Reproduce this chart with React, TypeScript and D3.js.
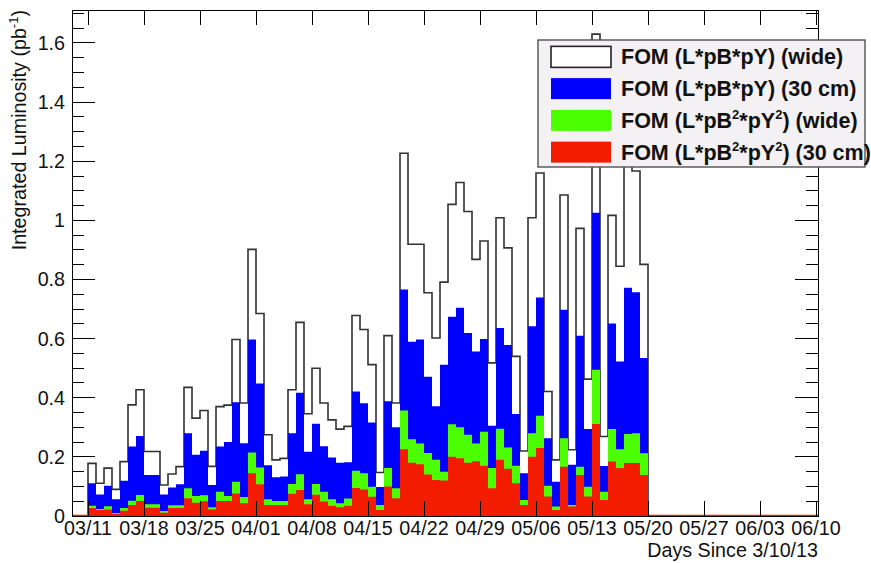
import React, { useEffect, useRef } from 'react';
import * as d3 from 'd3';

const W = 871;
const H = 563;

// one bin per day, day 0 = 3/10/13; first filled bin is 3/11 (day 1)
const firstDay = 1;

const fomWide = [
  0.178, 0.111, 0.162, 0.090, 0.184, 0.376, 0.427, 0.218, 0.218, 0.105,
  0.142, 0.167, 0.435, 0.331, 0.357, 0.168, 0.370, 0.375, 0.597, 0.382,
  0.902, 0.685, 0.275, 0.190, 0.195, 0.427, 0.655, 0.346, 0.500, 0.382,
  0.325, 0.294, 0.303, 0.678, 0.631, 0.512, 0.147, 0.610, 0.382, 1.227,
  0.919, 0.919, 0.755, 0.602, 0.791, 1.054, 1.128, 1.030, 0.868, 0.930,
  0.518, 1.009, 0.907, 0.540, 0.220, 1.009, 1.160, 0.421, 0.190, 1.086,
  0.224, 0.973, 0.463, 1.630, 0.269, 1.017, 0.845, 1.250, 1.167, 0.851,
];

const fom30 = [
  0.111, 0.073, 0.102, 0.057, 0.119, 0.235, 0.271, 0.139, 0.139, 0.073,
  0.096, 0.107, 0.280, 0.207, 0.221, 0.105, 0.235, 0.250, 0.385, 0.246,
  0.597, 0.448, 0.172, 0.131, 0.134, 0.280, 0.417, 0.217, 0.312, 0.236,
  0.198, 0.180, 0.182, 0.421, 0.381, 0.316, 0.098, 0.388, 0.300, 0.766,
  0.589, 0.597, 0.471, 0.371, 0.512, 0.674, 0.704, 0.619, 0.556, 0.599,
  0.305, 0.636, 0.578, 0.345, 0.145, 0.642, 0.739, 0.263, 0.116, 0.698,
  0.173, 0.610, 0.294, 1.026, 0.169, 0.651, 0.523, 0.772, 0.757, 0.534,
];

const fomSqWide = [
  0.035, 0.024, 0.033, 0.010, 0.027, 0.052, 0.071, 0.040, 0.040, 0.017,
  0.036, 0.036, 0.094, 0.068, 0.070, 0.030, 0.082, 0.068, 0.116, 0.064,
  0.215, 0.164, 0.057, 0.051, 0.051, 0.108, 0.141, 0.057, 0.108, 0.082,
  0.057, 0.043, 0.059, 0.153, 0.145, 0.099, 0.037, 0.162, 0.094, 0.357,
  0.260, 0.245, 0.213, 0.190, 0.150, 0.310, 0.300, 0.275, 0.245, 0.285,
  0.162, 0.295, 0.232, 0.170, 0.054, 0.280, 0.339, 0.102, 0.032, 0.263,
  0.037, 0.167, 0.099, 0.495, 0.082, 0.294, 0.226, 0.277, 0.280, 0.212,
];

const fomSq30 = [
  0.027, 0.020, 0.022, 0.008, 0.018, 0.037, 0.051, 0.028, 0.028, 0.011,
  0.027, 0.027, 0.060, 0.045, 0.050, 0.022, 0.051, 0.051, 0.076, 0.043,
  0.145, 0.107, 0.037, 0.037, 0.037, 0.075, 0.088, 0.040, 0.072, 0.049,
  0.035, 0.030, 0.035, 0.095, 0.090, 0.065, 0.020, 0.100, 0.060, 0.226,
  0.180, 0.175, 0.140, 0.122, 0.120, 0.200, 0.195, 0.180, 0.185, 0.170,
  0.094, 0.190, 0.160, 0.111, 0.037, 0.200, 0.230, 0.066, 0.020, 0.167,
  0.032, 0.139, 0.066, 0.311, 0.054, 0.184, 0.162, 0.179, 0.179, 0.139,
];

const weekLabels = [
  '03/11', '03/18', '03/25', '04/01', '04/08', '04/15', '04/22',
  '04/29', '05/06', '05/13', '05/20', '05/27', '06/03', '06/10',
];

type Seg = { t: string; sup?: boolean };
const legendEntries: { fill: string; stroke?: string; label: Seg[] }[] = [
  { fill: '#ffffff', stroke: '#222', label: [{ t: 'FOM (L*pB*pY) (wide)' }] },
  { fill: '#0000ff', label: [{ t: 'FOM (L*pB*pY) (30 cm)' }] },
  { fill: '#4cff00', label: [{ t: 'FOM (L*pB' }, { t: '2', sup: true }, { t: '*pY' }, { t: '2', sup: true }, { t: ') (wide)' }] },
  { fill: '#f41c00', label: [{ t: 'FOM (L*pB' }, { t: '2', sup: true }, { t: '*pY' }, { t: '2', sup: true }, { t: ') (30 cm)' }] },
];

const FONT = "'Liberation Sans', Arial, Helvetica, sans-serif";

const App: React.FC = () => {
  const svgRef = useRef<SVGSVGElement>(null);

  useEffect(() => {
    document.body.style.margin = '0';
    if (!svgRef.current) return;
    const svg = d3.select(svgRef.current);
    svg.selectAll('*').remove();

    const left = 72, right = 818, top = 10, bottom = 516;

    const x = d3.scaleLinear().domain([-1, 92.25]).range([left, right]);
    const y = d3.scaleLinear().domain([0, (d3.max(fomWide) || 1) * 1.05]).range([bottom, top]);

    const toPts = (vals: number[]): [number, number][] => [
      ...vals.map((v, i) => [firstDay + i, v] as [number, number]),
      [firstDay + vals.length, 0],
    ];

    const area = d3.area<[number, number]>()
      .x(d => x(d[0]))
      .y0(y(0))
      .y1(d => y(d[1]))
      .curve(d3.curveStepAfter);

    const line = d3.line<[number, number]>()
      .x(d => x(d[0]))
      .y(d => y(d[1]))
      .curve(d3.curveStepAfter);

    const g = svg.append('g');

    // wide histogram: white fill + dark outline
    const widePts: [number, number][] = [[firstDay, 0], ...toPts(fomWide)];
    g.append('path').attr('d', area(widePts)).attr('fill', '#fff');
    g.append('path').attr('d', line(widePts))
      .attr('fill', 'none').attr('stroke', '#333').attr('stroke-width', 1.6);

    const filled: [number[], string][] = [
      [fom30, '#0000ff'],
      [fomSqWide, '#4cff00'],
      [fomSq30, '#f41c00'],
    ];
    filled.forEach(([vals, col]) => {
      g.append('path').attr('d', area(toPts(vals))).attr('fill', col);
    });

    // red hist line along zero
    g.append('line')
      .attr('x1', left).attr('x2', right)
      .attr('y1', y(0) - 0.5).attr('y2', y(0) - 0.5)
      .attr('stroke', '#f41c00').attr('stroke-width', 1.5);

    // axes
    const ax = svg.append('g').attr('shape-rendering', 'crispEdges').attr('stroke', '#000');
    const yMajor = y.ticks(8);
    const yMinor = y.ticks(35);
    yMinor.forEach(v => {
      const len = yMajor.some(m => Math.abs(m - v) < 1e-6) ? 23 : 12;
      ax.append('line').attr('x1', left).attr('x2', left + len).attr('y1', y(v)).attr('y2', y(v));
      ax.append('line').attr('x1', right).attr('x2', right - len).attr('y1', y(v)).attr('y2', y(v));
    });
    const weekDays = weekLabels.map((_, i) => firstDay + 7 * i);
    weekDays.forEach(d => {
      ax.append('line').attr('x1', x(d)).attr('x2', x(d)).attr('y1', bottom).attr('y2', bottom - 15);
      ax.append('line').attr('x1', x(d)).attr('x2', x(d)).attr('y1', top).attr('y2', top + 15);
    });
    ax.append('rect')
      .attr('x', left).attr('y', top)
      .attr('width', right - left).attr('height', bottom - top)
      .attr('fill', 'none').attr('stroke-width', 1);

    const txt = svg.append('g').attr('font-family', FONT).attr('fill', '#111').attr('font-size', 19.7);

    yMajor.forEach(v => {
      txt.append('text')
        .attr('x', left - 7).attr('y', y(v)).attr('dy', '0.35em')
        .attr('text-anchor', 'end')
        .text(String(+v.toFixed(1)));
    });

    weekLabels.forEach((lab, i) => {
      txt.append('text')
        .attr('x', x(weekDays[i])).attr('y', 535)
        .attr('text-anchor', 'middle')
        .text(lab);
    });

    txt.append('text')
      .attr('x', right).attr('y', 557)
      .attr('text-anchor', 'end')
      .text('Days Since 3/10/13');

    const yt = txt.append('text')
      .attr('transform', `translate(26,${top}) rotate(-90)`)
      .attr('text-anchor', 'end');
    yt.append('tspan').text('Integrated Luminosity (pb');
    yt.append('tspan').attr('font-size', 13).attr('dy', -8).text('-1');
    yt.append('tspan').attr('dy', 8).text(')');

    // legend
    const lg = svg.append('g');
    const lx = 538, ly = 40, lw = 327, lh = 127;
    lg.append('rect')
      .attr('x', lx).attr('y', ly).attr('width', lw).attr('height', lh)
      .attr('fill', '#f4f1f4').attr('stroke', '#444').attr('stroke-width', 1.3);

    const rows = d3.scaleBand<number>()
      .domain(legendEntries.map((_, i) => i))
      .range([ly + 1, ly + lh + 1]);

    legendEntries.forEach((e, i) => {
      const cy = (rows(i) || 0) + rows.bandwidth() / 2;
      lg.append('rect')
        .attr('x', 551).attr('y', cy - 10.5).attr('width', 60).attr('height', 21)
        .attr('fill', e.fill)
        .attr('stroke', e.stroke || 'none').attr('stroke-width', 1.6);
      const t = lg.append('text')
        .attr('x', 621).attr('y', cy + 7.5)
        .attr('font-family', FONT).attr('font-weight', 'bold').attr('font-size', 21.5)
        .attr('fill', '#111');
      let shifted = false;
      e.label.forEach(s => {
        const sp = t.append('tspan').text(s.t);
        if (s.sup) {
          sp.attr('font-size', 13).attr('dy', -9);
          shifted = true;
        } else if (shifted) {
          sp.attr('dy', 9);
          shifted = false;
        }
      });
    });
  }, []);

  return <svg ref={svgRef} width={W} height={H} style={{ display: 'block', background: '#fff' }} />;
};

export default App;
